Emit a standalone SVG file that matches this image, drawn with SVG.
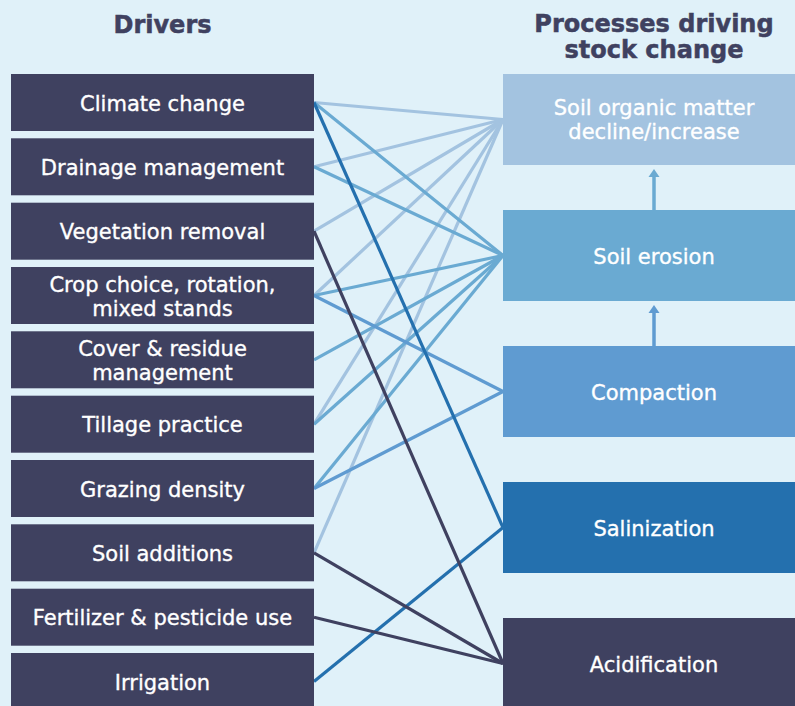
<svg xmlns="http://www.w3.org/2000/svg" width="795" height="706" viewBox="0 0 795 706">
<defs>
<style>
.bg{fill:#e0f1f9}
.head{font-family:"DejaVu Sans",sans-serif;font-weight:bold;font-size:24px;fill:#3f4160;stroke:#3f4160;stroke-width:0.5;text-anchor:middle}
.drv rect{fill:#3f4160}
.lbl{font-family:"DejaVu Sans",sans-serif;font-size:21px;fill:#ffffff;stroke:#ffffff;stroke-width:0.35;text-anchor:middle}
.c{stroke-width:3.2;fill:none}
.som{stroke:#a3c3e0}
.ero{stroke:#6aaad2}
.com{stroke:#5f9bd1}
.sal{stroke:#2470ae}
.aci{stroke:#3f4160}
</style>
</defs>
<rect class="bg" x="0" y="0" width="795" height="706"/>
<text class="head" x="162.5" y="33">Drivers</text>
<text class="head" x="654" y="32">Processes driving</text>
<text class="head" x="654" y="58">stock change</text>

<g id="connectors">
<line class="c som" x1="314" y1="102.5" x2="503" y2="119.5"/>
<line class="c som" x1="314" y1="166.8" x2="503" y2="119.5"/>
<line class="c som" x1="314" y1="231.2" x2="503" y2="119.5"/>
<line class="c som" x1="314" y1="295.5" x2="503" y2="119.5"/>
<line class="c som" x1="314" y1="424.2" x2="503" y2="119.5"/>
<line class="c som" x1="314" y1="552.8" x2="503" y2="119.5"/>
<line class="c ero" x1="314" y1="102.5" x2="503" y2="255.5"/>
<line class="c ero" x1="314" y1="166.8" x2="503" y2="255.5"/>
<line class="c ero" x1="314" y1="295.5" x2="503" y2="255.5"/>
<line class="c ero" x1="314" y1="359.8" x2="503" y2="255.5"/>
<line class="c ero" x1="314" y1="424.2" x2="503" y2="255.5"/>
<line class="c ero" x1="314" y1="488.5" x2="503" y2="255.5"/>
<line class="c com" x1="314" y1="295.5" x2="503" y2="391.5"/>
<line class="c com" x1="314" y1="488.5" x2="503" y2="391.5"/>
<line class="c sal" x1="314" y1="102.5" x2="503" y2="527.5"/>
<line class="c sal" x1="314" y1="681.5" x2="503" y2="527.5"/>
<line class="c aci" x1="314" y1="231.2" x2="503" y2="663.5"/>
<line class="c aci" x1="314" y1="552.8" x2="503" y2="663.5"/>
<line class="c aci" x1="314" y1="617.2" x2="503" y2="663.5"/>
<line stroke="#6aaad2" stroke-width="3.5" x1="654" y1="210" x2="654" y2="176"/>
<polygon fill="#6aaad2" points="654,169 659.5,177 648.5,177"/>
<line stroke="#5f9bd1" stroke-width="3.5" x1="654" y1="346" x2="654" y2="312"/>
<polygon fill="#5f9bd1" points="654,305 659.5,313 648.5,313"/>
</g>

<g id="d1" class="drv"><rect x="11" y="74" width="303" height="57"/><text class="lbl" x="162.5" y="110.5">Climate change</text></g>
<g id="d2" class="drv"><rect x="11" y="138.3" width="303" height="57"/><text class="lbl" x="162.5" y="174.8">Drainage management</text></g>
<g id="d3" class="drv"><rect x="11" y="202.7" width="303" height="57"/><text class="lbl" x="162.5" y="239.2">Vegetation removal</text></g>
<g id="d4" class="drv"><rect x="11" y="267" width="303" height="57"/><text class="lbl" x="162.5" y="292">Crop choice, rotation,</text><text class="lbl" x="162.5" y="315.5">mixed stands</text></g>
<g id="d5" class="drv"><rect x="11" y="331.3" width="303" height="57"/><text class="lbl" x="162.5" y="356.3">Cover &amp; residue</text><text class="lbl" x="162.5" y="379.8">management</text></g>
<g id="d6" class="drv"><rect x="11" y="395.7" width="303" height="57"/><text class="lbl" x="162.5" y="432.2">Tillage practice</text></g>
<g id="d7" class="drv"><rect x="11" y="460" width="303" height="57"/><text class="lbl" x="162.5" y="496.5">Grazing density</text></g>
<g id="d8" class="drv"><rect x="11" y="524.3" width="303" height="57"/><text class="lbl" x="162.5" y="560.8">Soil additions</text></g>
<g id="d9" class="drv"><rect x="11" y="588.7" width="303" height="57"/><text class="lbl" x="162.5" y="625.2">Fertilizer &amp; pesticide use</text></g>
<g id="d10" class="drv"><rect x="11" y="653" width="303" height="57"/><text class="lbl" x="162.5" y="689.5">Irrigation</text></g>

<g id="p1"><rect x="503" y="74" width="302" height="91" fill="#a3c3e0"/><text class="lbl" x="654" y="115">Soil organic matter</text><text class="lbl" x="654" y="139">decline/increase</text></g>
<g id="p2"><rect x="503" y="210" width="302" height="91" fill="#6aaad2"/><text class="lbl" x="654" y="263.5">Soil erosion</text></g>
<g id="p3"><rect x="503" y="346" width="302" height="91" fill="#5f9bd1"/><text class="lbl" x="654" y="399.5">Compaction</text></g>
<g id="p4"><rect x="503" y="482" width="302" height="91" fill="#2470ae"/><text class="lbl" x="654" y="535.5">Salinization</text></g>
<g id="p5"><rect x="503" y="618" width="302" height="91" fill="#3f4160"/><text class="lbl" x="654" y="671.5">Acidification</text></g>
</svg>
